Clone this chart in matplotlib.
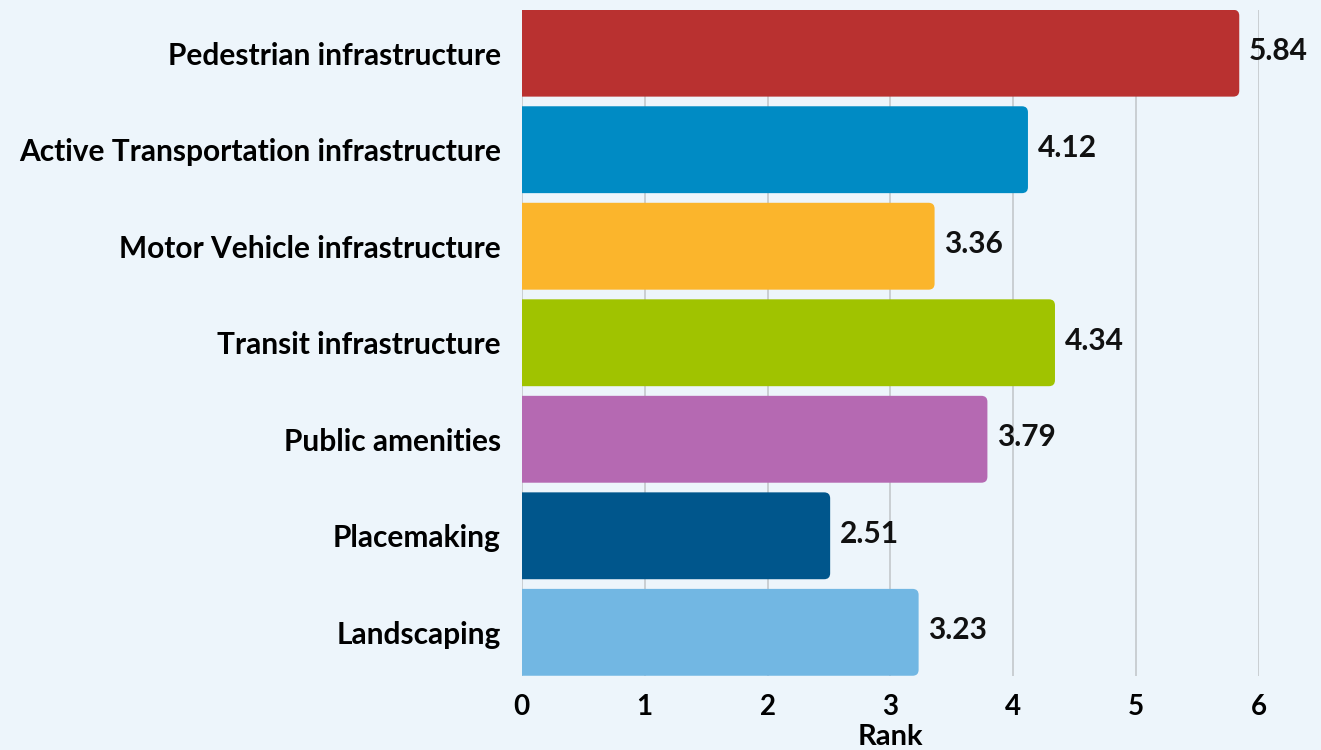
import matplotlib.pyplot as plt
from matplotlib.patches import FancyBboxPatch

categories = ["Pedestrian infrastructure", "Active Transportation infrastructure",
              "Motor Vehicle infrastructure", "Transit infrastructure",
              "Public amenities", "Placemaking", "Landscaping"]
ranks = [5.84, 4.12, 3.36, 4.34, 3.79, 2.51, 3.23]
colors = ["#B93130", "#008BC4", "#FBB52C", "#A0C300", "#B569B2", "#00568C", "#72B7E3"]
xticks = [0, 1, 2, 3, 4, 5, 6]

bg = "#EDF5FB"
plt.rcParams["font.family"] = ["Lato", "DejaVu Sans"]

fig = plt.figure(figsize=(13.21, 7.5), dpi=100, facecolor=bg)
ax = fig.add_axes([0.395, 0.099, 0.558, 0.888], facecolor=bg)

ax.set_xlim(0, 6)
ax.set_ylim(len(categories) - 0.55, -0.45)

# px per data unit, for round corners that look circular
px_x = 0.558 * 1321 / 6
px_y = 0.888 * 750 / (len(categories) - 0.1)
aspect = px_x / px_y
r = 6 / px_x
h = 0.9
off = 0.2  # start left of the axis so the clipped left end is square

for i, (val, col) in enumerate(zip(ranks, colors)):
    y0 = i - h / 2
    box = FancyBboxPatch((-off, y0), val + off, h,
                         boxstyle="round,pad=0,rounding_size=%f" % r,
                         mutation_aspect=aspect, fc=col, ec="none", zorder=3)
    ax.add_patch(box)
    ax.text(val + 0.08, i - 0.02, "%.2f" % val, va="center", ha="left",
            fontsize=21.5, fontweight="bold", color="#111111", zorder=4)

ax.set_xticks(xticks)
ax.set_xticklabels([str(t) for t in xticks], fontsize=20, fontweight="bold")
ax.set_yticks(range(len(categories)))
ax.set_yticklabels(categories, fontsize=21.5, fontweight="bold", va="center_baseline")
ax.tick_params(axis="x", length=0, pad=13)
ax.tick_params(axis="y", length=0, pad=15)
ax.grid(axis="x", color="#C4C8CC", linewidth=1.2, zorder=0)
for s in ax.spines.values():
    s.set_visible(False)

ax.set_xlabel("Rank", fontsize=21, fontweight="bold", labelpad=3)

fig.savefig("out.png", dpi=100, facecolor=bg)
